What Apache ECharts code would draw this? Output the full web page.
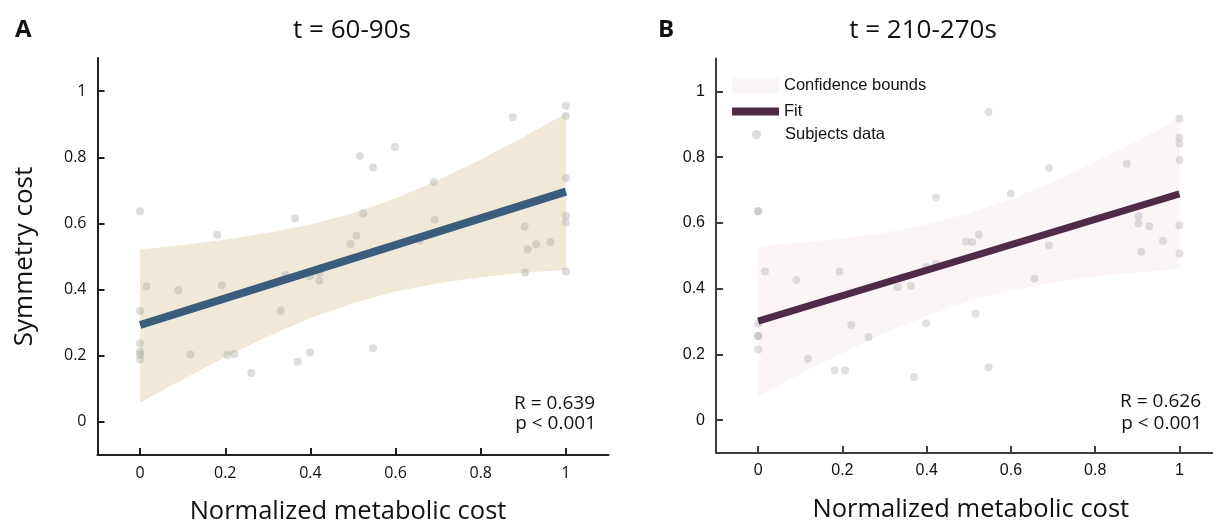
<!DOCTYPE html>
<html>
<head>
<meta charset="utf-8">
<script src="https://cdn.jsdelivr.net/npm/echarts@6/dist/echarts.min.js"></script>
<style>
html,body{margin:0;padding:0;background:#fff;}
#chart{width:1213px;height:524px;}
</style>
</head>
<body>
<div id="chart"></div>
<script>
// ---------- data ----------
const xTicks = [0, 0.2, 0.4, 0.6, 0.8, 1];
const yTicks = [0, 0.2, 0.4, 0.6, 0.8, 1];

// Panel A: t = 60-90s
const subjectsA = [
  [0, 0.637], [0.516, 0.804], [0.547, 0.769], [0.181, 0.566], [0.364, 0.615],
  [0.524, 0.631], [0.508, 0.563], [0.494, 0.538], [0.015, 0.409], [0.090, 0.398],
  [0.192, 0.413], [0.341, 0.444], [0.399, 0.440], [0.421, 0.451], [0.421, 0.427],
  [1.0, 0.956], [1.0, 0.925], [0.875, 0.921], [0.599, 0.831], [1.0, 0.737],
  [0.690, 0.725], [0.692, 0.611], [0.657, 0.548], [1.0, 0.623], [1.0, 0.603],
  [0.903, 0.591], [0.910, 0.522], [0.930, 0.537], [0.963, 0.544], [0.904, 0.452],
  [1.0, 0.455], [0, 0.335], [0.330, 0.336], [0, 0.238], [0, 0.212], [0, 0.204],
  [0, 0.189], [0.118, 0.204], [0.205, 0.202], [0.221, 0.205], [0.261, 0.148],
  [0.370, 0.182], [0.399, 0.210], [0.547, 0.223]
];
const fitA = [[0, 0.293], [1, 0.696]];
const bandX = [0, 0.1, 0.2, 0.3, 0.4, 0.5, 0.6, 0.7, 0.8, 0.9, 1];
const bandUpperA = [0.521, 0.535, 0.551, 0.572, 0.597, 0.631, 0.676, 0.731, 0.793, 0.861, 0.932];
const bandLowerA = [0.059, 0.128, 0.196, 0.258, 0.313, 0.359, 0.394, 0.419, 0.437, 0.451, 0.460];

// Panel B: t = 210-270s
const subjectsB = [
  [0, 0.635], [0.547, 0.937], [0.422, 0.677], [0.493, 0.543], [0.508, 0.542],
  [0.524, 0.564], [0.016, 0.452], [0.091, 0.426], [0.193, 0.452], [0.331, 0.405],
  [0.342, 0.435], [0.363, 0.409], [0.399, 0.466], [0.422, 0.476],
  [1.0, 0.917], [1.0, 0.860], [1.0, 0.841], [1.0, 0.791], [0.875, 0.780],
  [0.690, 0.767], [0.600, 0.689], [0.903, 0.620], [0.903, 0.598], [0.928, 0.590],
  [1.0, 0.593], [0.961, 0.546], [0.909, 0.512], [1.0, 0.507], [0.690, 0.532],
  [0.656, 0.430], [0, 0.293], [0, 0.256], [0, 0.256], [0, 0.215], [0.221, 0.289],
  [0.262, 0.253], [0.399, 0.294], [0.516, 0.324], [0.118, 0.187], [0.182, 0.152],
  [0.206, 0.151], [0.370, 0.131], [0.547, 0.161], [0, 0.635]
];
const fitB = [[0, 0.301], [1, 0.688]];
const bandUpperB = [0.530, 0.540, 0.552, 0.570, 0.595, 0.629, 0.672, 0.725, 0.785, 0.849, 0.917];
const bandLowerB = [0.072, 0.140, 0.204, 0.264, 0.317, 0.361, 0.394, 0.419, 0.437, 0.449, 0.459];

const titles = ['t = 60-90s', 't = 210-270s'];
const panelLabels = ['A', 'B'];
const statsA = ['R = 0.639', 'p < 0.001'];
const statsB = ['R = 0.626', 'p < 0.001'];
const xName = 'Normalized metabolic cost';
const yName = 'Symmetry cost';
const legendNames = ['Confidence bounds', 'Fit', 'Subjects data'];

// ---------- helpers ----------
const myriad = '"Open Sans", "Noto Sans", sans-serif';
const arial = '"Liberation Sans", Arial, sans-serif';

function bandData(lo, hi) { return bandX.map((x, i) => [x, lo[i], hi[i]]); }
function bandRender(lo, hi) {
  return function (params, api) {
    if (params.dataIndex !== 0) return;
    const pts = [];
    for (let i = 0; i < bandX.length; i++) pts.push(api.coord([bandX[i], hi[i]]));
    for (let i = bandX.length - 1; i >= 0; i--) pts.push(api.coord([bandX[i], lo[i]]));
    return { type: 'polygon', shape: { points: pts }, style: { fill: api.visual('color') } };
  };
}
function xAxisCfg(idx, axisColor, labelFont, namePad) {
  return {
    type: 'value', gridIndex: idx, min: -0.1, max: 1.1,
    axisLine: { onZero: false, lineStyle: { color: axisColor, width: 2 } },
    axisTick: { inside: true, length: 7, customValues: xTicks, lineStyle: { color: axisColor, width: 2 } },
    axisLabel: { customValues: xTicks, margin: 10, color: '#111', fontFamily: labelFont, fontSize: 16 },
    splitLine: { show: false },
    name: xName, nameLocation: 'middle', nameGap: 44,
    nameTextStyle: { fontFamily: myriad, fontSize: 25.5, color: '#111', padding: namePad }
  };
}
function yAxisCfg(idx, axisColor, labelFont, withName) {
  const c = {
    type: 'value', gridIndex: idx, min: -0.1, max: 1.1,
    axisLine: { onZero: false, lineStyle: { color: axisColor, width: 2 } },
    axisTick: { inside: true, length: 7, customValues: yTicks, lineStyle: { color: axisColor, width: 2 } },
    axisLabel: { customValues: yTicks, margin: 11, color: '#111', fontFamily: labelFont, fontSize: 16 },
    splitLine: { show: false }
  };
  if (withName) {
    c.name = yName; c.nameLocation = 'middle'; c.nameGap = 60;
    c.nameTextStyle = { fontFamily: myriad, fontSize: 26, color: '#111' };
  }
  return c;
}

const chart = echarts.init(document.getElementById('chart'), null, { renderer: 'canvas' });
const legendText = { fontFamily: arial, fontSize: 16.5, color: '#111' };

const option = {
  animation: false,
  backgroundColor: '#fff',
  grid: [
    { left: 97.5, top: 58, right: 604.5, bottom: 69, outerBoundsMode: 'none', containLabel: false },
    { left: 716, top: 58.5, right: -8.6, bottom: 71, outerBoundsMode: 'none', containLabel: false }
  ],
  xAxis: [xAxisCfg(0, '#231f20', myriad, [0, 10, 0, 0]), xAxisCfg(1, '#3d3d3d', arial, [0, 0, 0, 4])],
  yAxis: [yAxisCfg(0, '#231f20', myriad, true), yAxisCfg(1, '#3d3d3d', arial, false)],
  title: [
    { text: titles[0], left: 347, top: 13, textAlign: 'center', textStyle: { fontFamily: myriad, fontSize: 26, fontWeight: 'normal', color: '#111' } },
    { text: titles[1], left: 918, top: 13, textAlign: 'center', textStyle: { fontFamily: myriad, fontSize: 26, fontWeight: 'normal', color: '#111' } },
    { text: panelLabels[0], left: 10, top: 13, textStyle: { fontFamily: myriad, fontSize: 24, fontWeight: 'bold', color: '#111' } },
    { text: panelLabels[1], left: 653, top: 13, textStyle: { fontFamily: myriad, fontSize: 24, fontWeight: 'bold', color: '#111' } }
  ],
  legend: [
    { data: [{ name: legendNames[0], icon: 'rect', itemStyle: { color: '#fbf5f6', borderWidth: 0 } }],
      left: 732, top: 77, itemWidth: 47, itemHeight: 16, padding: 0, selectedMode: false, textStyle: legendText },
    { data: [{ name: legendNames[1], icon: 'rect', itemStyle: { color: '#4f2b48', borderWidth: 0 } }],
      left: 732, top: 103, itemWidth: 47, itemHeight: 8, padding: 0, selectedMode: false, textStyle: legendText },
    { data: [{ name: legendNames[2], icon: 'circle', itemStyle: { color: 'rgba(170,170,170,0.5)', borderWidth: 0 } }],
      left: 752, top: 126, itemWidth: 47, itemHeight: 9, padding: 0, selectedMode: false, textStyle: legendText }
  ],
  graphic: [
    { type: 'text', right: 1213 - 595, top: 394, style: { text: statsA[0], fontFamily: myriad, fontSize: 19, fill: '#111', textAlign: 'right' } },
    { type: 'text', right: 1213 - 596, top: 414, style: { text: statsA[1], fontFamily: myriad, fontSize: 19, fill: '#111', textAlign: 'right' } },
    { type: 'text', right: 1213 - 1201, top: 392, style: { text: statsB[0], fontFamily: myriad, fontSize: 19, fill: '#111', textAlign: 'right' } },
    { type: 'text', right: 1213 - 1202, top: 414, style: { text: statsB[1], fontFamily: myriad, fontSize: 19, fill: '#111', textAlign: 'right' } }
  ],
  series: [
    { name: 'Confidence bounds (A)', type: 'custom', xAxisIndex: 0, yAxisIndex: 0, z: 1,
      data: bandData(bandLowerA, bandUpperA), encode: { x: 0, y: [1, 2] },
      itemStyle: { color: '#f0e9d7' }, renderItem: bandRender(bandLowerA, bandUpperA), silent: true },
    { name: 'Subjects data (A)', type: 'scatter', xAxisIndex: 0, yAxisIndex: 0, z: 2,
      data: subjectsA, symbolSize: 8, itemStyle: { color: 'rgba(160,160,160,0.45)' }, silent: true },
    { name: 'Fit (A)', type: 'line', xAxisIndex: 0, yAxisIndex: 0, z: 3,
      data: fitA, showSymbol: false, symbol: 'none',
      lineStyle: { color: '#3a5d7e', width: 8, cap: 'butt' }, itemStyle: { color: '#3a5d7e' }, silent: true },

    { name: legendNames[0], type: 'custom', xAxisIndex: 1, yAxisIndex: 1, z: 1,
      data: bandData(bandLowerB, bandUpperB), encode: { x: 0, y: [1, 2] },
      itemStyle: { color: '#fbf5f6' }, renderItem: bandRender(bandLowerB, bandUpperB), silent: true },
    { name: legendNames[2], type: 'scatter', xAxisIndex: 1, yAxisIndex: 1, z: 2,
      data: subjectsB, symbolSize: 8, itemStyle: { color: 'rgba(170,170,170,0.45)' }, silent: true },
    { name: legendNames[1], type: 'line', xAxisIndex: 1, yAxisIndex: 1, z: 3,
      data: fitB, showSymbol: false, symbol: 'none',
      lineStyle: { color: '#4f2b48', width: 7, cap: 'butt' }, itemStyle: { color: '#4f2b48' }, silent: true }
  ]
};
chart.setOption(option);
</script>
</body>
</html>
